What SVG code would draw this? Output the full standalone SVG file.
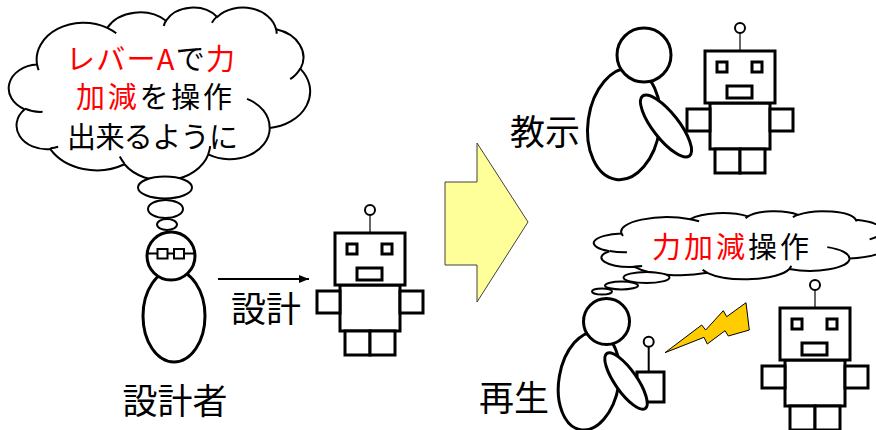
<svg xmlns="http://www.w3.org/2000/svg" width="876" height="430" viewBox="0 0 876 430">
<style>
  .ln{fill:#fff;stroke:#000;stroke-width:3}
  .thin{fill:#fff;stroke:#000;stroke-width:2}
  .cloud{fill:#fff;stroke:#000;stroke-width:2}
  .crease{fill:none;stroke:#000;stroke-width:2}
  text{font-family:'Noto Sans CJK JP','Noto Sans',sans-serif;fill:#000}
  .red{fill:#f00}
  .lbl{font-size:35px;text-anchor:middle}
  .th{font-size:29px}
</style>
<defs>
  <!-- cloud outline in a 43200 x 43200 unit box -->
  <path id="cloudOutline" class="cloud" vector-effect="non-scaling-stroke" d="M3900 14370 A6753 9190 0 0 1 14006 5203 A5333 7267 0 0 1 22458 3434 A4365 5945 0 0 1 29834 2482 A4857 6595 0 0 1 38320 5577 A5333 7273 0 0 1 41820 15461 A6775 9220 0 0 1 37407 30207 A5785 7867 0 0 1 28559 36817 A6752 9215 0 0 1 16484 39269 A7720 10543 0 0 1 5809 35475 A4360 5918 0 0 1 2118 25553 A4345 5945 0 0 1 3900 14370 Z"/>
  <!-- inner creases of the cloud -->
  <path id="cloudCreases" class="crease" vector-effect="non-scaling-stroke" d="M4693 26177 A4345 5945 0 0 1 2159 25379 M6928 34899 A4360 5918 0 0 1 5819 35281 M16478 39090 A6752 9215 0 0 1 15810 37349 M28827 34751 A6752 9215 0 0 1 28560 36660 M34129 22954 A5785 7867 0 0 1 37380 30090 M41798 15354 A5333 7273 0 0 1 40350 18030 M38324 5426 A4857 6595 0 0 1 38400 6690 M29078 3952 A4857 6595 0 0 1 29820 2339 M22141 4720 A4365 5945 0 0 1 22500 3330 M14000 5192 A6753 9190 0 0 1 15299 6540 M4127 15789 A6753 9190 0 0 1 3900 14371"/>
  <!-- robot, origin at the top-left corner of the head -->
  <g id="robot">
    <line x1="35" y1="-18" x2="35" y2="0" stroke="#000" stroke-width="1.2"/>
    <circle cx="35" cy="-23" r="5" class="thin"/>
    <rect x="5" y="52" width="60" height="46" class="ln"/>
    <rect x="-18" y="58" width="23" height="22" class="ln"/>
    <rect x="65" y="58" width="23" height="22" class="ln"/>
    <rect x="10" y="98" width="25" height="24" class="ln"/>
    <rect x="35" y="98" width="25" height="24" class="ln"/>
    <rect x="0" y="0" width="70" height="52" class="ln"/>
    <rect x="12" y="11" width="10" height="10" class="ln" stroke-width="2.5"/>
    <rect x="47" y="11" width="10" height="10" class="ln" stroke-width="2.5"/>
    <rect x="22" y="35" width="25" height="12" class="ln" stroke-width="2.5"/>
  </g>
  <marker id="head" viewBox="0 0 10 8" refX="10" refY="4" markerWidth="5" markerHeight="4" orient="auto" markerUnits="strokeWidth">
    <path d="M0 0 L10 4 L0 8 Z" fill="#000"/>
  </marker>
</defs>

<!-- designer's thought -->
<g id="thought-designer">
  <use href="#cloudOutline" transform="translate(10 7) scale(0.0069444 0.0040046)"/>
  <use href="#cloudCreases" transform="translate(10 7) scale(0.0069444 0.0040046)"/>
  <ellipse cx="165" cy="187.5" rx="27" ry="11" class="thin"/>
  <ellipse cx="165.5" cy="209" rx="17.5" ry="9" class="thin"/>
  <ellipse cx="167" cy="224.5" rx="10" ry="5.5" class="thin"/>
  <text class="th" x="66" y="70" textLength="169" lengthAdjust="spacing"><tspan class="red">レバーA</tspan>で<tspan class="red">力</tspan></text>
  <text class="th" x="76" y="108" textLength="156" lengthAdjust="spacing"><tspan class="red">加減</tspan>を操作</text>
  <text class="th" x="67" y="148" textLength="171" lengthAdjust="spacing">出来るように</text>
</g>

<!-- designer -->
<g id="designer">
  <ellipse cx="174" cy="316" rx="31" ry="46" class="ln"/>
  <circle cx="171" cy="256" r="24" class="ln"/>
  <line x1="147" y1="253.5" x2="195" y2="253.5" stroke="#000" stroke-width="2"/>
  <rect x="157.5" y="249" width="10" height="9.5" class="thin"/>
  <rect x="174" y="249" width="10" height="9.5" class="thin"/>
  <text class="lbl" x="175" y="414">設計者</text>
</g>

<!-- robot being designed -->
<g id="robot-design">
  <use href="#robot" transform="translate(335 233)"/>
</g>

<!-- connectors -->
<g id="connectors">
  <line x1="218" y1="279" x2="309" y2="279" stroke="#000" stroke-width="2" marker-end="url(#head)"/>
  <text class="lbl" x="266" y="322">設計</text>
</g>

<!-- phase arrow -->
<g id="phase-arrow">
  <polygon points="445,182 477,182 477,143 528,222 477,302 477,265 445,265" fill="#ffff99" stroke="#404040" stroke-width="1"/>
</g>

<!-- teaching -->
<g id="teaching">
  <text class="lbl" x="545" y="145">教示</text>
  <ellipse cx="624" cy="124" rx="36" ry="56" transform="rotate(8 624 124)" class="ln"/>
  <circle cx="644" cy="55" r="27" class="ln"/>
  <ellipse cx="666" cy="126" rx="13" ry="38" transform="rotate(-38 666 126)" class="ln"/>
</g>
<g id="robot-teach">
  <use href="#robot" transform="translate(705 51)"/>
</g>

<!-- playback -->
<g id="thought-operator">
  <use href="#cloudOutline" transform="translate(595 211) scale(0.0068056 0.0015741)"/>
  <use href="#cloudCreases" transform="translate(595 211) scale(0.0068056 0.0015741)"/>
  <ellipse cx="646.5" cy="277.5" rx="23" ry="5.5" class="thin"/>
  <ellipse cx="621.5" cy="285.5" rx="16.5" ry="4" class="thin"/>
  <ellipse cx="602" cy="291.5" rx="10" ry="3" class="thin"/>
  <text class="th" x="652" y="258" textLength="157" lengthAdjust="spacing"><tspan class="red">力加減</tspan>操作</text>
</g>
<g id="operator">
  <text class="lbl" x="514" y="411">再生</text>
  <ellipse cx="589" cy="381" rx="30" ry="49.5" transform="rotate(10 589 381)" class="ln"/>
  <circle cx="606.5" cy="321.5" r="23" class="ln"/>
  <line x1="648.7" y1="346.5" x2="648.7" y2="372" stroke="#000" stroke-width="2"/>
  <circle cx="648.7" cy="341.7" r="5" class="thin"/>
  <rect x="637" y="372" width="27" height="30" class="ln"/>
  <ellipse cx="626" cy="381" rx="11" ry="33.5" transform="rotate(-35 626 381)" class="ln"/>
</g>
<g id="signal">
  <polygon points="665,352.7 701.7,325 705.7,330 723.3,310.7 726.7,316.7 746,302.7 749.3,330 728.3,336 725,330.7 707.3,344 704,337.3" fill="#ffcc00" stroke="#000" stroke-width="1"/>
</g>
<g id="robot-play">
  <use href="#robot" transform="translate(780 308)"/>
</g>
</svg>
